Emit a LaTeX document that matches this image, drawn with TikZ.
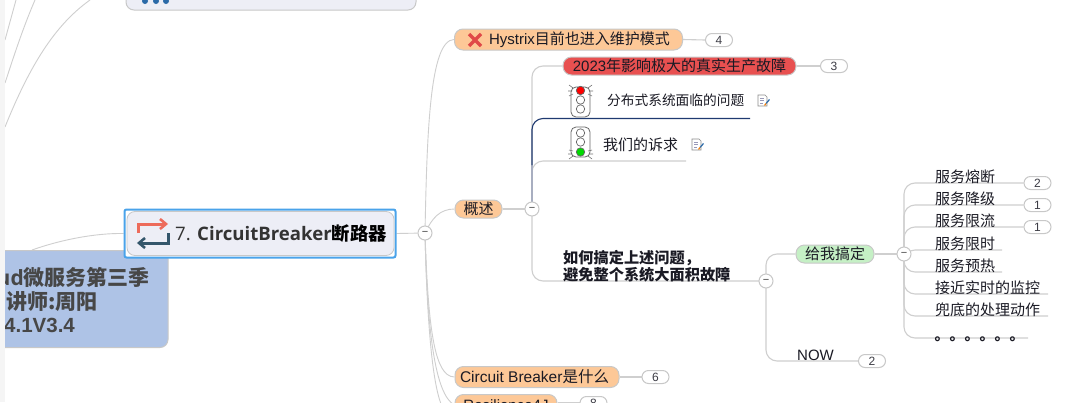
\documentclass[tikz,border=0pt]{standalone}
\usepackage{fontspec}
\setmainfont{Liberation Sans}
\newfontfamily\cjk{Noto Sans CJK SC}
\newfontfamily\opensans{Open Sans}
\usetikzlibrary{backgrounds}
\newcommand{\px}[1]{\fontsize{#1}{#1}\selectfont}
\newcommand{\dn}[2]{\raisebox{-#1pt}{#2}}
\definecolor{conn}{HTML}{CFCFCF}
\definecolor{orangefill}{HTML}{FDC897}
\definecolor{redfill}{HTML}{E85050}
\definecolor{greenfill}{HTML}{C5F0C5}
\definecolor{pillline}{HTML}{C8C8C8}
\definecolor{ink}{HTML}{1A1A24}
\definecolor{paneblue}{HTML}{AEC3E6}
\definecolor{panegrey}{HTML}{EDEEF6}
\definecolor{selblue}{HTML}{4AA3EA}
\definecolor{trunkblue}{HTML}{A8AEC0}
\definecolor{navy}{HTML}{1F3A70}
\definecolor{iconred}{HTML}{ED6B5B}
\definecolor{icondark}{HTML}{34566B}
\definecolor{dotblue}{HTML}{2B6AA8}
\definecolor{crossred}{HTML}{E04848}
\tikzset{
  link/.style={draw=conn,line width=1.1pt,rounded corners=11pt},
  thin link/.style={draw=conn,line width=0.9pt},
  topic/.style={draw=pillline,line width=1pt,rounded corners=8.5pt,inner sep=0pt,text=ink,font=\px{15}},
  pill/.style={draw=pillline,fill=white,line width=1pt,rounded corners=6.5pt,minimum width=27pt,minimum height=13pt,inner sep=0pt,text=ink!85,font=\px{12}},
  hub/.style={circle,draw=pillline,fill=white,line width=1pt,minimum size=14pt,inner sep=0pt,text=black!75,font=\px{11}},
  plain/.style={inner sep=0pt,text=ink,anchor=base west},
}
\newcommand{\noteicon}[2]{%
  \begin{scope}[shift={(#1,#2)}]
    \draw[fill=white,draw=black!45,line width=.6pt] (0,0) -- (7,0) -- (9,2) -- (9,11) -- (0,11) -- cycle;
    \draw[blue!30!black!40,line width=.5pt] (2,3) -- (6,3) (2,5.5) -- (6,5.5) (2,8) -- (5,8);
    \draw[draw=dotblue,line width=1.2pt] (11.5,4.5) -- (8,8.5);
    \draw[draw=orange!80!brown,line width=1.2pt] (8,8.5) -- (6.5,10.5);
  \end{scope}}
\newcommand{\lighthousing}[2]{%
  \draw[draw=black!60,fill=white,line width=.8pt,rounded corners=5pt] (#1-9.5,#2) rectangle (#1+9.5,#2+30);}
\newcommand{\lamp}[3]{\draw[draw=black!60,fill=#3,line width=.7pt] (#1,#2) circle (4.2pt);}
\begin{document}
\begin{tikzpicture}[x=1pt,y=-1pt]
\useasboundingbox (0,0) rectangle (1080,402);
\clip (0,0) rectangle (1080,402);

% nodes
\node[draw=pillline,fill=panegrey,line width=1pt,rounded corners=8pt,minimum width=290pt,minimum height=30pt,inner sep=0pt] (prev) at (271,-5) {};
\foreach \dx in {145,156,166} \fill[dotblue] (\dx,1) circle (3pt);

\node[draw=pillline,fill=paneblue,line width=1pt,rounded corners=8pt,minimum width=182pt,minimum height=97pt,inner sep=0pt] (root) at (77,299) {};
\node[inner sep=0pt,anchor=base east,text=black!72,font=\px{21}\bfseries] (rootA) at (150,285) {\opensans ud\cjk 微服务第三季};
\node[inner sep=0pt,anchor=base west,text=black!72,font=\px{21}\bfseries] (rootB) at (6,309) {\cjk 讲师:周阳};
\node[inner sep=0pt,anchor=base west,text=black!72,font=\px{20.5}\bfseries] (rootC) at (4,332) {4.1V3.4};

\node[draw=selblue,fill=white,line width=2pt,rounded corners=2pt,minimum width=271pt,minimum height=48pt,inner sep=0pt] (cbsel) at (260,233.5) {};
\node[draw=pillline,fill=panegrey,line width=.8pt,rounded corners=8pt,minimum width=267pt,minimum height=44pt,inner sep=0pt] (cbbox) at (260.5,233.5) {};
\node[inner sep=0pt,anchor=base west,text=black!80,font=\px{18.6}] (cb) at (175,240) {\opensans 7. \bfseries CircuitBreaker{\cjk\color{black}\px{18.3}断路器}};
\draw[draw=iconred,line width=3pt] (138,233) -- (138,224) -- (165,224);
\draw[draw=iconred,line width=2.6pt] (160,219) -- (166,224) -- (160,229);
\draw[draw=icondark,line width=3pt] (168,233) -- (168,243) -- (141,243);
\draw[draw=icondark,line width=2.6pt] (145,238) -- (139,243) -- (145,248);

\node[hub] (h0) at (425,233) {−};

\node[topic,fill=orangefill,minimum width=228pt,minimum height=21pt] (hystrix) at (568.5,39.5) {\hspace{22pt}\dn{.8}{Hystrix{\cjk 目前也进入维护模式}}};
\draw[draw=crossred,line width=3.5pt] (469,34) -- (481,46) (481,34) -- (469,46);
\node[pill] (p4) at (719,40) {4};

\node[topic,fill=redfill,minimum width=233pt,minimum height=18pt] (red) at (679.5,66) {\dn{1.5}{2023{\cjk 年影响极大的真实生产故障}}};
\node[pill] (p3) at (834,66) {3};

\node[plain,font=\px{13.7}] (issue) at (607,105) {\cjk 分布式系统面临的问题};
\coordinate (issueEnd) at (750,118.5);
\node[plain,font=\px{15}] (demand) at (603,150) {\cjk 我们的诉求};
\coordinate (demandEnd) at (686,161);
\noteicon{758}{95}
\noteicon{692}{139}

% traffic lights
\lighthousing{580.5}{87}
\lamp{580.5}{90.5}{red}\lamp{580.5}{100}{white}\lamp{580.5}{109}{white}
\draw[black!55,line width=.6pt] (573,88) -- (569,85) (588,88) -- (592,85) (572,91) -- (568,91) (589,91) -- (593,91) (573,94) -- (569,96) (588,94) -- (592,96);
\lighthousing{580.5}{127}
\lamp{580.5}{133}{white}\lamp{580.5}{142}{white}\lamp{580.5}{152}{green!85!black}
\draw[black!55,line width=.6pt] (573,151) -- (569,150) (588,151) -- (592,150) (572,154) -- (568,154) (589,154) -- (593,154) (573,156) -- (569,159) (588,156) -- (592,159);

\node[topic,fill=orangefill,minimum width=47pt,minimum height=18pt] (over) at (478.5,209) {\dn{1}{\cjk 概述}};
\node[hub] (h1) at (532,209) {−};

\node[plain,font=\px{15.2}\bfseries] (howA) at (563,263) {\cjk 如何搞定上述问题，};
\node[plain,font=\px{15.2}\bfseries] (howB) at (563,280) {\cjk 避免整个系统大面积故障};
\node[hub] (h2) at (766,281) {−};

\node[topic,fill=greenfill,minimum width=78pt,minimum height=18pt] (fix) at (835,254) {\dn{1}{\cjk 给我搞定}};
\node[hub] (h3) at (904,254) {−};

\node[plain,font=\px{15}] (now) at (797,360) {NOW};
\node[pill] (p2b) at (872,361) {2};

\node[plain,font=\px{15}] (s1) at (935,182) {\cjk 服务熔断};
\node[pill] (ps1) at (1037.5,183) {2};
\node[plain,font=\px{15}] (s2) at (935,204) {\cjk 服务降级};
\node[pill] (ps2) at (1037.5,205) {1};
\node[plain,font=\px{15}] (s3) at (935,226) {\cjk 服务限流};
\node[pill] (ps3) at (1037.5,227) {1};
\node[plain,font=\px{15}] (s4) at (935,249) {\cjk 服务限时};
\coordinate (s4e) at (1002,250);
\node[plain,font=\px{15}] (s5) at (935,271) {\cjk 服务预热};
\coordinate (s5e) at (1002,272);
\node[plain,font=\px{15}] (s6) at (935,293) {\cjk 接近实时的监控};
\coordinate (s6e) at (1048,294);
\node[plain,font=\px{15}] (s7) at (935,315) {\cjk 兜底的处理动作};
\coordinate (s7e) at (1048,316);
\node[plain,font=\px{15}\bfseries] (s8) at (934.5,340) {\cjk 。。。。。。};
\coordinate (s8e) at (1028,338);

\node[topic,fill=orangefill,minimum width=164pt,minimum height=21pt] (what) at (537,377) {\hspace{-5pt}\dn{.8}{\px{15.5}Circuit Breaker{\cjk 是什么}}};
\node[pill] (p6) at (655.5,377) {6};
\node[topic,fill=orangefill,minimum width=102pt,minimum height=21pt] (res) at (506,405) {Resilience4J};
\node[pill] (p8) at (593.5,403) {8};
\coordinate (off) at (441,404);

% connectors
\begin{pgfonlayer}{background}
  \fill[white] (0,0) rectangle (1080,402);
  \draw[thin link] (16,0) -- (5,40);
  \draw[thin link] (35,0) .. controls (22,30) and (12,62) .. (5,83);
  \draw[thin link] (90,0) .. controls (55,25) and (30,65) .. (5,127);
  \draw[thin link] (root.north) ++(-45,0) .. controls (60,240) and (95,233) .. (cbsel.west);
  \draw[thin link] (cbsel.east) -- (h0);
  \draw[thin link] (h0.center) .. controls (427,130) and (430,40) .. (hystrix.west);
  \draw[thin link] (h0.center) .. controls (432,218) and (440,209) .. (over.west);
  \draw[thin link] (h0.center) .. controls (428,320) and (433,377) .. (what.west);
  \draw[thin link] (h0.center) .. controls (427,330) and (435,395) .. (res.west);
  \draw[thin link] (h0.center) .. controls (427,320) and (432,380) .. (off);
  \draw[link] (hystrix.east) -- (p4.west);
  \draw[link] (red.east) -- (p3.west);
  \draw[link] (what.east) -- (p6.west);
  \draw[link] (res.east |- p8.west) -- (p8.west);
  \draw[link] (over.east) -- (h1);
  \draw[link] (h1.center) |- (red.west);
  \draw[link] (h1.center) |- (h2.center);
  \draw[link] (h1.center) |- (demandEnd);
  \draw[draw=trunkblue,line width=1.3pt] (h1.center) -- (532,165);
  \draw[draw=navy,line width=1.1pt,rounded corners=11pt] (532,165) |- (issueEnd);
  \draw[link] (h2.center) |- (fix.west);
  \draw[link] (h2.center) |- (p2b.west);
  \draw[link] (fix.east) -- (h3);
  \draw[link] (h3.center) |- (ps1.west);
  \draw[link] (h3.center) |- (ps2.west);
  \draw[link] (h3.center) |- (ps3.west);
  \draw[link] (h3.center) |- (s4e);
  \draw[link] (h3.center) |- (s5e);
  \draw[link] (h3.center) |- (s6e);
  \draw[link] (h3.center) |- (s7e);
  \draw[link] (h3.center) |- (s8e);
\end{pgfonlayer}

% left window edge
\fill[black!4] (0,0) rectangle (5,402);
\end{tikzpicture}
\end{document}
